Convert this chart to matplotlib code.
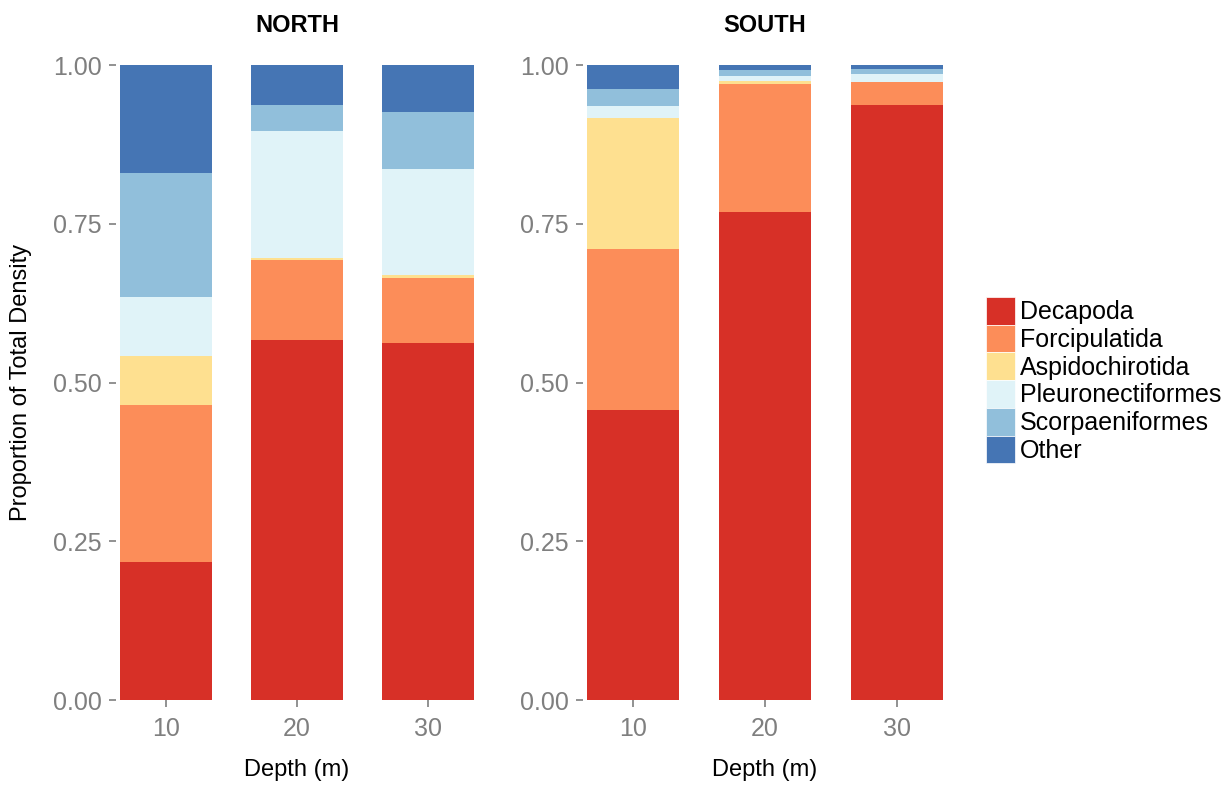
import matplotlib
matplotlib.use("Agg")
import matplotlib.pyplot as plt
from matplotlib.patches import Patch

plt.rcParams["font.family"] = ["Liberation Sans", "DejaVu Sans"]

depths = ["10", "20", "30"]
orders = ["Decapoda", "Forcipulatida", "Aspidochirotida",
          "Pleuronectiformes", "Scorpaeniformes", "Other"]
colors = ["#D73027", "#FC8D59", "#FEE090", "#E0F3F8", "#91BFDB", "#4575B4"]

# proportion of total density per depth, one list per order (10, 20, 30 m)
north = {
    "Decapoda":          [0.218, 0.567, 0.563],
    "Forcipulatida":     [0.247, 0.127, 0.102],
    "Aspidochirotida":   [0.077, 0.002, 0.004],
    "Pleuronectiformes": [0.093, 0.200, 0.167],
    "Scorpaeniformes":   [0.195, 0.041, 0.090],
    "Other":             [0.170, 0.063, 0.074],
}
south = {
    "Decapoda":          [0.457, 0.769, 0.937],
    "Forcipulatida":     [0.253, 0.202, 0.037],
    "Aspidochirotida":   [0.207, 0.004, 0.000],
    "Pleuronectiformes": [0.019, 0.008, 0.013],
    "Scorpaeniformes":   [0.026, 0.009, 0.007],
    "Other":             [0.038, 0.008, 0.006],
}

grey = "#7F7F7F"
fs = 18

fig = plt.figure(figsize=(12.29, 7.87), dpi=100)
W, H = 1229, 787
y_bot, y_top = 700, 65.3


def panel(left_px, right_px, data, title):
    ax = fig.add_axes([left_px / W, 1 - y_bot / H,
                       (right_px - left_px) / W, (y_bot - y_top) / H])
    x = list(range(1, len(depths) + 1))
    bottom = [0.0] * len(depths)
    for name, col in zip(orders, colors):
        vals = data[name]
        ax.bar(x, vals, width=0.7, bottom=bottom, color=col,
               edgecolor="none", linewidth=0)
        bottom = [b + v for b, v in zip(bottom, vals)]
    ax.set_xlim(0.62, 3.38)
    ax.set_ylim(0, 1)
    ax.set_xticks(x)
    ax.set_xticklabels(depths)
    ax.set_yticks([0, 0.25, 0.5, 0.75, 1.0])
    ax.set_yticklabels(["0.00", "0.25", "0.50", "0.75", "1.00"])
    for s in ax.spines.values():
        s.set_visible(False)
    ax.tick_params(axis="both", colors=grey, labelcolor=grey,
                   labelsize=fs, length=5, width=1.2)
    ax.tick_params(axis="x", pad=7)
    ax.tick_params(axis="y", pad=5)
    ax.set_xlabel("Depth (m)", fontsize=17, color="black", labelpad=13)
    ax.set_title(title, fontsize=17, fontweight="bold", pad=24)
    return ax


ax_n = panel(116, 478, north, "NORTH")
ax_s = panel(583, 947, south, "SOUTH")
ax_n.set_ylabel("Proportion of Total Density", fontsize=17, labelpad=15)

handles = [Patch(facecolor=c, edgecolor="white", linewidth=0.5) for c in colors]
fig.legend(handles, orders, loc="upper left",
           bbox_to_anchor=(986 / W, 1 - 297 / H), frameon=False,
           fontsize=fs, handlelength=1.16, handleheight=1.33,
           labelspacing=0.0, handletextpad=0.2, borderpad=0,
           borderaxespad=0)

fig.savefig("out.png", dpi=100)
